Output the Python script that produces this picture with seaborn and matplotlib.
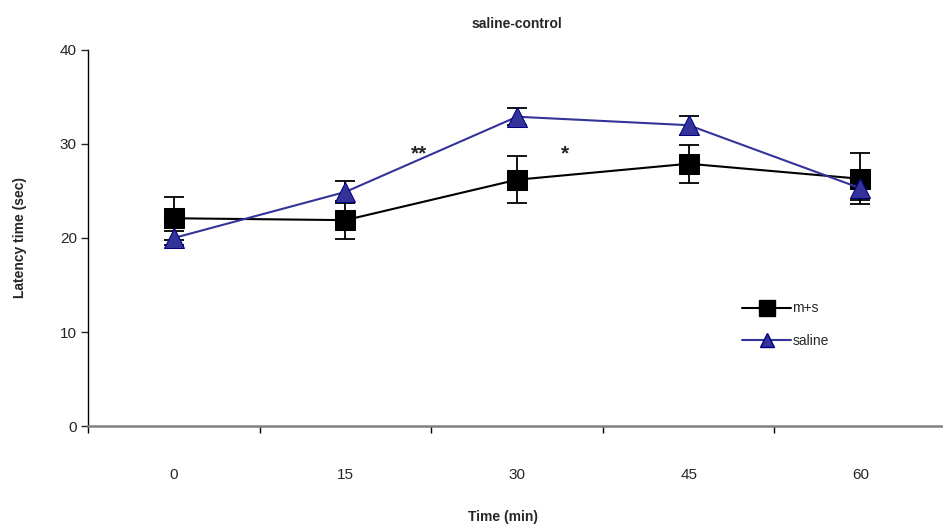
import numpy as np
import pandas as pd
import matplotlib
matplotlib.use("Agg")
import matplotlib.pyplot as plt
import seaborn as sns
from matplotlib.lines import Line2D

# data
time_labels = ["0", "15", "30", "45", "60"]
ms_mean = [22.1, 21.9, 26.2, 27.9, 26.3]
ms_err = [2.3, 2.0, 2.5, 2.0, 2.7]
saline_mean = [20.0, 24.9, 32.9, 32.0, 25.3]
saline_err = [0.7, 1.2, 0.9, 1.0, 1.3]
stars = ["**", "*"]
star_x = [1.43, 2.28]
star_y = [29.0, 29.0]

sns.set_style("white")
plt.rcParams["font.family"] = ["Liberation Sans", "DejaVu Sans"]
narrow = ["Liberation Sans Narrow", "Liberation Sans", "DejaVu Sans"]

blue = "#333399"
pos = np.arange(len(time_labels))
df = pd.DataFrame({
    "pos": np.concatenate([pos, pos]),
    "latency": ms_mean + saline_mean,
    "group": ["m+s"] * 5 + ["saline"] * 5,
})

fig = plt.figure(figsize=(9.43, 5.29), dpi=100)
ax = fig.add_axes([0.0933, 0.1947, 0.91, 0.7108])

ax.errorbar(pos, ms_mean, yerr=ms_err, fmt="none", ecolor="black", elinewidth=1.3, capsize=7, capthick=1.3, zorder=2)
ax.errorbar(pos, saline_mean, yerr=saline_err, fmt="none", ecolor="black", elinewidth=1.3, capsize=7, capthick=1.3, zorder=2)

sns.lineplot(data=df[df.group == "m+s"], x="pos", y="latency", color="black", lw=1.5,
             marker="s", markersize=14, markerfacecolor="black", markeredgecolor="black", ax=ax, zorder=3)
sns.lineplot(data=df[df.group == "saline"], x="pos", y="latency", color=blue, lw=1.5,
             marker="^", markersize=15, markerfacecolor=blue, markeredgecolor="#000080", ax=ax, zorder=4)

for s, x, y in zip(stars, star_x, star_y):
    ax.text(x, y, s, ha="center", va="center", fontsize=15, fontweight="bold")

ax.set_xlim(-0.5, 4.5)
ax.set_ylim(0, 40)
ax.set_yticks([0, 10, 20, 30, 40])
ax.set_yticklabels(["0", "10", "20", "30", "40"], family=narrow, fontsize=11)
ax.set_xticks(np.arange(-0.5, 4.6, 1.0))
ax.set_xticklabels([])
ax.set_xticks(pos, minor=True)
ax.set_xticklabels(time_labels, minor=True, family=narrow, fontsize=11)
ax.tick_params(axis="x", which="major", direction="out", length=5, width=1, color="black", bottom=True)
ax.tick_params(axis="x", which="minor", length=0, pad=30)
ax.tick_params(axis="y", direction="out", length=5, width=1, left=True, pad=3)

for side in ["top", "right"]:
    ax.spines[side].set_visible(False)
ax.spines["left"].set_color("black")
ax.spines["left"].set_linewidth(1)
ax.spines["bottom"].set_color("#808080")
ax.spines["bottom"].set_linewidth(1.8)

ax.set_title("saline-control", fontsize=10, fontweight="bold", pad=16)
ax.set_xlabel("Time (min)", fontsize=10, fontweight="bold")
ax.xaxis.set_label_coords(0.484, -0.242)
ax.xaxis.label.set_va("center")
ax.set_ylabel("Latency time (sec)", fontsize=10, fontweight="bold", labelpad=24)

handles = [
    Line2D([], [], color="black", lw=1.5, marker="s", markersize=12, markerfacecolor="black"),
    Line2D([], [], color=blue, lw=1.5, marker="^", markersize=10, markerfacecolor=blue, markeredgecolor="#000080"),
]
ax.legend(handles, ["m+s", "saline"], loc="center left", bbox_to_anchor=(0.748, 0.27),
          frameon=False, fontsize=10, handlelength=3.5, handletextpad=0.1, labelspacing=1.3)

fig.savefig("out.png", dpi=100)
